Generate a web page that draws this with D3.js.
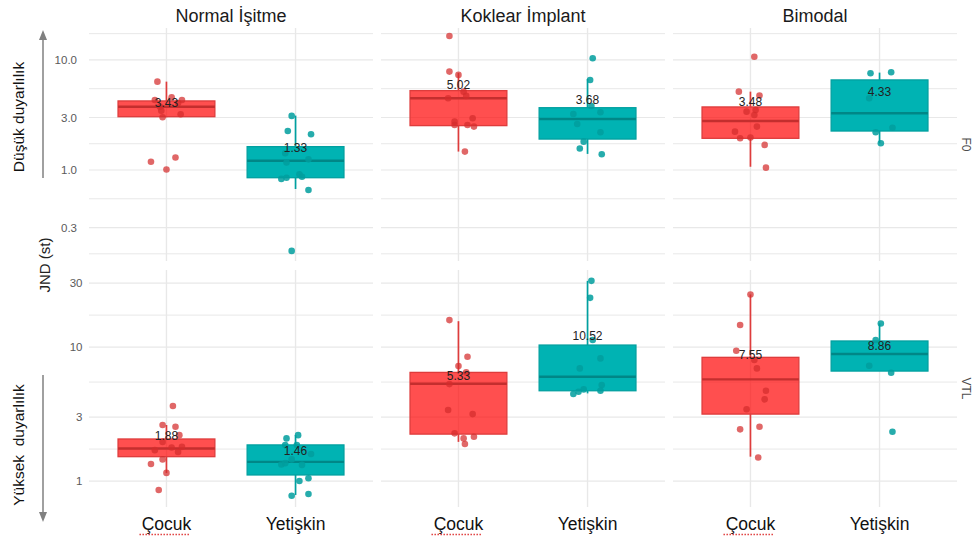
<!DOCTYPE html>
<html><head><meta charset="utf-8">
<script src="https://cdn.jsdelivr.net/npm/d3@7"></script>
<style>body{margin:0;background:#fff;} text{font-family:"Liberation Sans",Arial,Helvetica,sans-serif;}</style>
</head><body><svg id="c" width="974" height="540"></svg>
<script>
// ---------- data ----------
const panels = ["Normal İşitme", "Koklear İmplant", "Bimodal"];
const rowLabels = ["F0", "VTL"];
const groups = ["Çocuk", "Yetişkin"];

const ticksF0 = [0.3, 1, 3, 10];
const tickLabF0 = ["0.3", "1.0", "3.0", "10.0"];
const ticksVTL = [1, 3, 10, 30];
const tickLabVTL = ["1", "3", "10", "30"];
const domainF0 = [0.149, 19.5];
const domainVTL = [0.64, 37.6];

// jittered points (order: NI-Çocuk, NI-Yetişkin, KI-Çocuk, KI-Yetişkin, Bi-Çocuk, Bi-Yetişkin)
const ptsF0 = [
  [6.35, 4.33, 4.58, 4.33, 3.76, 3.46, 3.01, 3.21, 4.06, 1.19, 1.30, 1.01],
  [3.10, 2.26, 2.11, 1.42, 1.17, 1.25, 0.83, 0.85, 0.914, 0.869, 0.658, 0.184],
  [16.5, 7.83, 7.31, 5.15, 4.49, 4.71, 2.75, 2.56, 2.56, 2.95, 2.48, 1.47],
  [10.36, 6.58, 3.82, 3.23, 3.35, 2.62, 2.20, 1.81, 1.57, 1.39],
  [10.7, 5.15, 4.74, 3.39, 3.51, 3.16, 2.48, 2.23, 1.94, 1.97, 1.69, 1.05],
  [7.57, 7.73, 4.49, 2.20, 2.42, 1.75]
];
const jitF0 = [
  [-0.07, -0.09, 0.04, 0.12, -0.05, -0.04, -0.03, 0.11, 0.09, -0.12, 0.07, 0.00],
  [-0.03, -0.06, 0.12, -0.08, -0.07, 0.10, -0.11, -0.07, 0.03, 0.05, 0.10, -0.03],
  [-0.07, -0.07, 0.00, 0.04, -0.08, 0.06, -0.03, -0.03, 0.07, 0.11, 0.12, 0.05],
  [0.04, 0.02, 0.03, -0.11, 0.10, -0.08, 0.10, -0.03, -0.06, 0.11],
  [0.03, -0.09, 0.07, -0.03, 0.04, 0.03, 0.05, -0.12, -0.08, 0.00, 0.11, 0.12],
  [-0.07, 0.09, -0.08, -0.03, 0.10, 0.01]
];
const ptsVTL = [
  [3.63, 2.62, 2.54, 2.20, 1.96, 1.70, 1.78, 1.65, 1.80, 1.45, 1.34, 1.15, 0.857],
  [2.08, 2.20, 1.86, 1.86, 1.59, 1.33, 1.36, 1.45, 1.32, 1.00, 1.05, 0.777, 0.80],
  [15.9, 8.47, 7.21, 6.47, 5.29, 3.39, 3.16, 2.27, 2.08, 2.14, 1.89],
  [31.2, 23.3, 11.3, 8.23, 6.93, 5.21, 4.83, 4.64, 4.46, 4.72],
  [24.7, 14.6, 9.38, 8.0, 6.93, 4.72, 4.07, 3.43, 2.43, 2.54, 1.50],
  [15.0, 11.3, 7.25, 6.43, 2.33]
];
const jitVTL = [
  [0.05, -0.03, 0.07, 0.10, -0.03, -0.09, 0.04, 0.09, 0.12, -0.03, -0.12, 0.00, -0.06],
  [-0.07, 0.02, -0.08, 0.01, 0.12, -0.11, -0.08, -0.03, 0.05, 0.03, 0.10, -0.03, 0.10],
  [-0.07, 0.07, 0.00, 0.06, -0.07, -0.08, 0.11, -0.03, 0.04, 0.12, 0.05],
  [0.03, 0.02, 0.04, 0.10, -0.06, 0.11, -0.03, -0.07, -0.11, 0.10],
  [0.00, -0.08, -0.11, 0.03, 0.05, 0.12, 0.11, -0.03, -0.08, 0.07, 0.06],
  [0.01, -0.03, -0.08, 0.09, 0.10]
];
// box stats: [lower whisker, Q1, median, Q3, upper whisker]
const boxF0 = [
  [3.01, 3.05, 3.76, 4.24, 6.35],
  [0.672, 0.851, 1.215, 1.63, 3.12],
  [1.47, 2.53, 4.49, 5.26, 7.6],
  [1.40, 1.91, 2.91, 3.68, 6.72],
  [1.07, 1.94, 2.79, 3.74, 5.15],
  [1.75, 2.26, 3.28, 6.58, 7.67]
];
const boxVTL = [
  [1.15, 1.52, 1.75, 2.06, 2.62],
  [0.787, 1.11, 1.39, 1.86, 2.20],
  [1.96, 2.24, 5.32, 6.47, 15.6],
  [4.51, 4.72, 6.0, 10.35, 31.2],
  [1.52, 3.16, 5.74, 8.38, 24.7],
  [6.62, 6.62, 8.87, 11.1, 15.0]
];
const meanF0 = [3.43, 1.33, 5.02, 3.68, 3.48, 4.33];
const meanVTL = [1.88, 1.46, 5.33, 10.52, 7.55, 8.86];

// ---------- layout ----------
const svg = d3.select("#c");
const panelLeft = [89, 381, 673], panelW = 284;
const rowTop = [28, 270], rowBottom = [261, 507];
const tickRight = [77, 82.5];
const fillC = ["rgba(255,0,0,0.69)", "#00b3b3"];
const strokeC = ["#de3c3c", "#00a0a0"];
const medC = ["#c42e2e", "#008787"];
const ptC = ["rgba(212,44,44,0.72)", "rgba(0,158,158,0.85)"];
const gridC = "#e8e8e8";

const rows = [
  {pts: ptsF0, jit: jitF0, box: boxF0, mean: meanF0, ticks: ticksF0, lab: tickLabF0, dom: domainF0},
  {pts: ptsVTL, jit: jitVTL, box: boxVTL, mean: meanVTL, ticks: ticksVTL, lab: tickLabVTL, dom: domainVTL}
];

rows.forEach((R, r) => {
  const y = d3.scaleLog().domain(R.dom).range([rowBottom[r], rowTop[r]]);
  // minor breaks: geometric midpoints between majors (extended by one break each side)
  const ext2 = [R.ticks[0] === 1 ? 0.3 : 0.1, ...R.ticks, R.ticks[R.ticks.length - 1] === 10 ? 30 : 100];
  const minors = [];
  for (let i = 0; i < ext2.length - 1; i++) {
    const m = Math.sqrt(ext2[i] * ext2[i + 1]);
    if (m > R.dom[0] && m < R.dom[1]) minors.push(m);
  }
  // y tick labels
  const yAxis = d3.axisLeft(y).tickValues(R.ticks).tickFormat((d, i) => R.lab[i]).tickSize(0).tickPadding(0);
  const ga = svg.append("g").attr("transform", `translate(${tickRight[r]},0)`).call(yAxis);
  ga.select(".domain").remove();
  ga.selectAll("text").attr("font-size", 11.5).attr("fill", "#5a5a5a")
    .attr("font-family", '"Liberation Sans",Arial,sans-serif');

  panels.forEach((pn, p) => {
    const x = d3.scaleLinear().domain([0.4, 2.6]).range([panelLeft[p], panelLeft[p] + panelW]);
    const g = svg.append("g");
    // grid
    g.selectAll(".mn").data(minors).join("line")
      .attr("x1", panelLeft[p]).attr("x2", panelLeft[p] + panelW)
      .attr("y1", d => y(d)).attr("y2", d => y(d))
      .attr("stroke", gridC).attr("stroke-width", 1);
    g.selectAll(".mj").data(R.ticks).join("line")
      .attr("x1", panelLeft[p]).attr("x2", panelLeft[p] + panelW)
      .attr("y1", d => y(d)).attr("y2", d => y(d))
      .attr("stroke", gridC).attr("stroke-width", 1.2);
    g.selectAll(".vx").data([1, 2]).join("line")
      .attr("x1", d => x(d)).attr("x2", d => x(d))
      .attr("y1", rowTop[r]).attr("y2", rowBottom[r])
      .attr("stroke", gridC).attr("stroke-width", 1.4);

    groups.forEach((gn, k) => {
      const i = p * 2 + k;
      const b = R.box[i];
      const cx = x(k + 1), hw = (x(1.375) - x(1));
      // whiskers
      g.append("line").attr("x1", cx).attr("x2", cx).attr("y1", y(b[3])).attr("y2", y(b[4]))
        .attr("stroke", strokeC[k]).attr("stroke-width", 1.7);
      g.append("line").attr("x1", cx).attr("x2", cx).attr("y1", y(b[1])).attr("y2", y(b[0]))
        .attr("stroke", strokeC[k]).attr("stroke-width", 1.7);
      // box
      g.append("rect").attr("x", cx - hw).attr("width", 2 * hw)
        .attr("y", y(b[3])).attr("height", y(b[1]) - y(b[3]))
        .attr("fill", fillC[k]).attr("stroke", strokeC[k]).attr("stroke-width", 1.3);
      g.append("line").attr("x1", cx - hw).attr("x2", cx + hw).attr("y1", y(b[2])).attr("y2", y(b[2]))
        .attr("stroke", medC[k]).attr("stroke-width", 2.4);
      // points
      g.selectAll(null).data(R.pts[i].map((v, j) => [v, R.jit[i][j]])).join("circle")
        .attr("cx", d => x(k + 1 + d[1])).attr("cy", d => y(d[0])).attr("r", 3.3)
        .attr("fill", ptC[k]);
      // mean label
      g.append("text").attr("x", cx).attr("y", y(R.mean[i]) - 4)
        .attr("text-anchor", "middle").attr("font-size", 12).attr("fill", "#222")
        .text(R.mean[i].toFixed(2));
    });

    if (r === 0) {
      svg.append("text").attr("x", panelLeft[p] + panelW / 2).attr("y", 21.5)
        .attr("text-anchor", "middle").attr("font-size", 18).attr("fill", "#1a1a1a").text(pn);
    } else {
      groups.forEach((gn, k) => {
        svg.append("text").attr("x", x(k + 1)).attr("y", 530)
          .attr("text-anchor", "middle").attr("font-size", 17.5).attr("fill", "#111").text(gn);
        if (k === 0) {
          svg.append("line").attr("x1", x(1) - 27).attr("x2", x(1) + 24).attr("y1", 534.5).attr("y2", 534.5)
            .attr("stroke", "#e04040").attr("stroke-width", 1.4).attr("stroke-dasharray", "1.5,1.5");
        }
      });
    }
  });
  // right strip labels
  svg.append("text").attr("transform", `translate(962,${(rowTop[r] + rowBottom[r]) / 2}) rotate(90)`)
    .attr("text-anchor", "middle").attr("font-size", 12).attr("fill", "#4d4d4d").text(rowLabels[r]);
});

// y-axis title and arrows
svg.append("text").attr("transform", "translate(50,265) rotate(-90)")
  .attr("text-anchor", "middle").attr("font-size", 15).attr("fill", "#222").text("JND (st)");
svg.append("text").attr("transform", "translate(24,117) rotate(-90)")
  .attr("text-anchor", "middle").attr("font-size", 15.5).attr("fill", "#111").text("Düşük duyarlılık");
svg.append("text").attr("transform", "translate(24,445) rotate(-90)").style("white-space", "pre")
  .attr("text-anchor", "middle").attr("font-size", 15.5).attr("fill", "#111").text("Yüksek  duyarlılık");
const arrC = "#808080";
svg.append("line").attr("x1", 43).attr("x2", 43).attr("y1", 178).attr("y2", 38).attr("stroke", arrC).attr("stroke-width", 1.5);
svg.append("path").attr("d", "M43,30 L39,40 L47,40 Z").attr("fill", arrC);
svg.append("line").attr("x1", 43).attr("x2", 43).attr("y1", 375).attr("y2", 514).attr("stroke", arrC).attr("stroke-width", 1.5);
svg.append("path").attr("d", "M43,522 L39,512 L47,512 Z").attr("fill", arrC);
</script></body></html>
